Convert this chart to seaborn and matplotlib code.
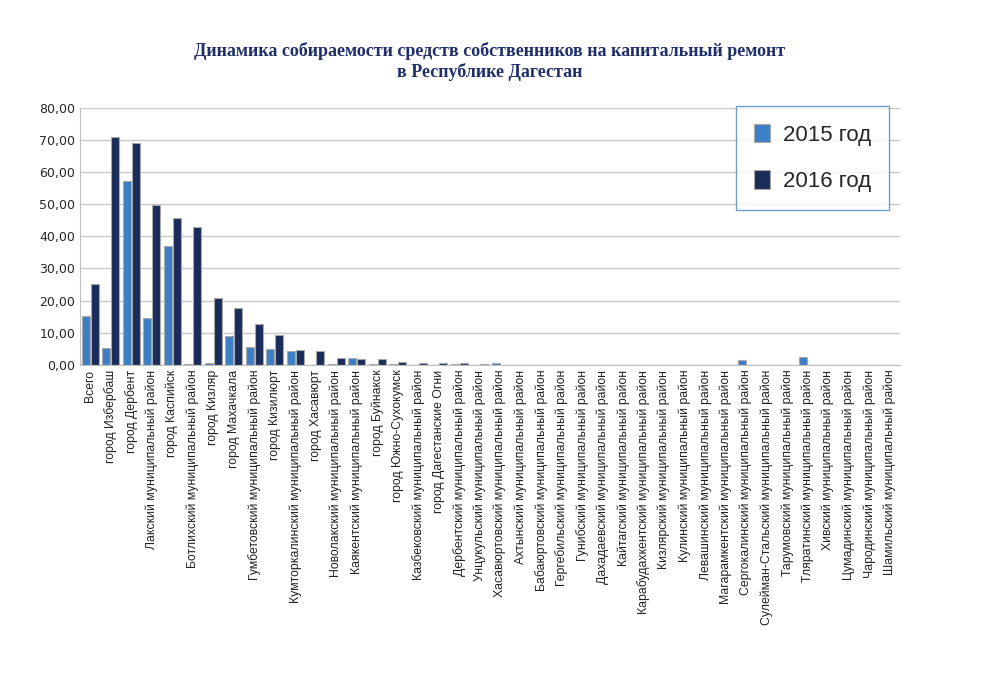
import numpy as np
import pandas as pd
import matplotlib
matplotlib.use("Agg")
import matplotlib.pyplot as plt
import seaborn as sns
from matplotlib.ticker import FuncFormatter

categories = [
    "Всего", "город Избербаш", "город Дербент", "Лакский муниципальный район",
    "город Каспийск", "Ботлихский муниципальный район", "город Кизляр",
    "город Махачкала", "Гумбетовский муниципальный район", "город Кизилюрт",
    "Кумторкалинский муниципальный район", "город Хасавюрт",
    "Новолакский муниципальный район", "Каякентский муниципальный район",
    "город Буйнакск", "город Южно-Сухокумск", "Казбековский муниципальный район",
    "город Дагестанские Огни", "Дербентский муниципальный район",
    "Унцукульский муниципальный район", "Хасавюртовский муниципальный район",
    "Ахтынский муниципальный район", "Бабаюртовский муниципальный район",
    "Гергебильский муниципальный район", "Гунибский муниципальный район",
    "Дахадаевский муниципальный район", "Кайтагский муниципальный район",
    "Карабудахкентский муниципальный район", "Кизлярский муниципальный район",
    "Кулинский муниципальный район", "Левашинский муниципальный район",
    "Магарамкентский муниципальный район", "Сергокалинский муниципальный район",
    "Сулейман-Стальский муниципальный район", "Тарумовский муниципальный район",
    "Тляратинский муниципальный район", "Хивский муниципальный район",
    "Цумадинский муниципальный район", "Чародинский муниципальный район",
    "Шамильский муниципальный район",
]
values_2015 = [15.3, 5.1, 57.3, 14.6, 36.9, 0.4, 0.6, 8.9, 5.6, 4.9,
               4.2, 0.1, 0.4, 2.0, 0.4, 0.3, 0.1, 0.1, 0.4, 0.1,
               0.5, 0, 0, 0, 0, 0, 0, 0, 0.1, 0,
               0, 0, 1.6, 0, 0.1, 2.3, 0, 0, 0, 0]
values_2016 = [25.2, 71.0, 69.1, 49.7, 45.6, 43.0, 20.8, 17.8, 12.6, 9.4,
               4.7, 4.3, 2.0, 1.9, 1.7, 0.8, 0.6, 0.6, 0.6, 0.2,
               0, 0, 0, 0, 0, 0, 0, 0, 0, 0,
               0, 0, 0, 0, 0, 0, 0, 0, 0, 0]
series = ["2015 год", "2016 год"]

df = pd.DataFrame({
    "cat": categories * 2,
    "val": values_2015 + values_2016,
    "year": [series[0]] * len(categories) + [series[1]] * len(categories),
})

sns.set_style("white")
fig = plt.figure(figsize=(10, 6.95), dpi=100)
ax = fig.add_axes([0.08, 0.475, 0.82, 0.37])

sns.barplot(data=df, x="cat", y="val", hue="year", ax=ax,
            palette=["#3d7fc6", "#1a2d5a"], edgecolor="#a8a8a8",
            linewidth=0.8, width=0.85, gap=0.08, saturation=1)

ax.set_ylim(0, 80)
ax.set_yticks(np.arange(0, 81, 10))
ax.yaxis.set_major_formatter(FuncFormatter(lambda v, p: f"{v:.2f}".replace(".", ",")))
ax.grid(axis="y", color="#c8c8c8", linewidth=1)
ax.set_axisbelow(True)
for s in ["top", "right"]:
    ax.spines[s].set_visible(False)
ax.spines["left"].set_color("#c0c0c0")
ax.spines["bottom"].set_color("#c0c0c0")
ax.set_xlim(-0.5, len(categories) - 0.5)
ax.set_xlabel("")
ax.set_ylabel("")
ax.tick_params(axis="y", labelsize=9, length=0)
ax.tick_params(axis="x", length=0)
ax.set_xticks(range(len(categories)))
ax.set_xticklabels(categories, rotation=90, fontsize=8.8,
                   family=["Liberation Sans", "DejaVu Sans"], color="#222222")

ax.set_title("Динамика собираемости средств собственников на капитальный ремонт\nв Республике Дагестан",
             family="Liberation Serif", fontweight="bold", fontsize=13,
             color="#1f2f6b", pad=22)

leg = ax.legend(loc="upper right", bbox_to_anchor=(1.0, 1.05), fontsize=16,
                frameon=True, fancybox=False, edgecolor="#4a86c0",
                handlelength=0.7, handleheight=0.9, labelspacing=1.1,
                borderpad=0.8, handletextpad=0.6,
                prop={"family": ["Liberation Sans", "DejaVu Sans"], "size": 16})

fig.savefig("out.png", dpi=100)
